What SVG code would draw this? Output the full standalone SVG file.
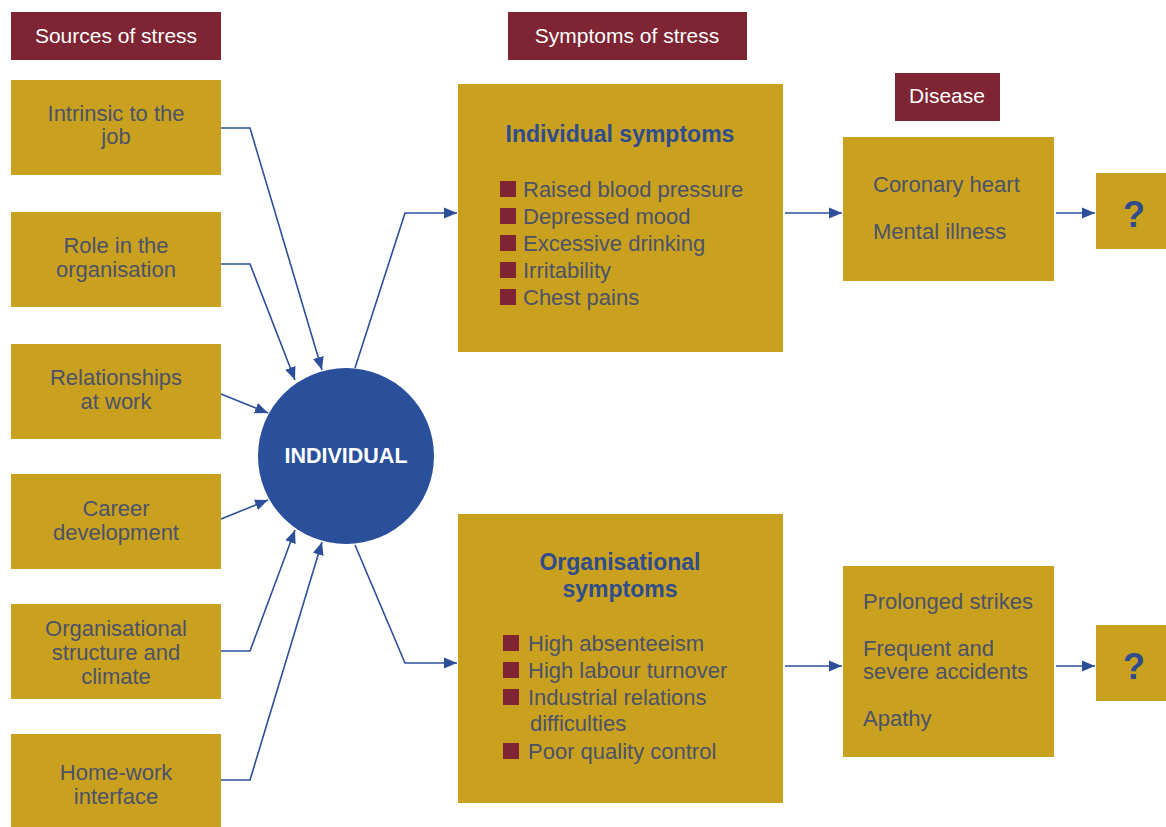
<svg xmlns="http://www.w3.org/2000/svg" width="1166" height="827" viewBox="0 0 1166 827">
<style>
.hdr{fill:#7e2433}
.hdrt{fill:#ffffff;font-family:"Liberation Sans",Arial,sans-serif;font-size:21px;text-anchor:middle}
.box{fill:#c9a11f}
.t{fill:#4c5268;font-family:"Liberation Sans",Arial,sans-serif;font-size:22px}
.c{text-anchor:middle}
.title{fill:#2f4c8c;font-family:"Liberation Sans",Arial,sans-serif;font-size:23px;font-weight:bold;text-anchor:middle}
.bul{fill:#7e2433}
.q{fill:#2f4c8c;font-family:"Liberation Sans",Arial,sans-serif;font-size:36px;font-weight:bold;text-anchor:middle}
.conn{fill:none;stroke:#2d4f9a;stroke-width:1.6;marker-end:url(#arr)}
</style>
<defs>
<marker id="arr" markerUnits="userSpaceOnUse" markerWidth="14" markerHeight="12" viewBox="0 0 14 12" refX="13" refY="6" orient="auto">
<path d="M0,0.5 L13,6 L0,11.5 Z" fill="#2d4f9a"/>
</marker>
</defs>
<rect width="1166" height="827" fill="#ffffff"/>

<g id="hdr-sources"><rect class="hdr" x="11" y="12" width="210" height="48"/><text class="hdrt" x="116" y="43">Sources of stress</text></g>
<g id="hdr-symptoms"><rect class="hdr" x="508" y="12" width="239" height="48"/><text class="hdrt" x="627" y="43">Symptoms of stress</text></g>
<g id="hdr-disease"><rect class="hdr" x="895" y="73" width="105" height="48"/><text class="hdrt" x="947" y="103">Disease</text></g>

<g id="src-intrinsic"><rect class="box" x="11" y="80" width="210" height="95"/><text class="t c" x="116" y="121">Intrinsic to the</text><text class="t c" x="116" y="144">job</text></g>
<g id="src-role"><rect class="box" x="11" y="212" width="210" height="95"/><text class="t c" x="116" y="253">Role in the</text><text class="t c" x="116" y="277">organisation</text></g>
<g id="src-relationships"><rect class="box" x="11" y="344" width="210" height="95"/><text class="t c" x="116" y="385">Relationships</text><text class="t c" x="116" y="409">at work</text></g>
<g id="src-career"><rect class="box" x="11" y="474" width="210" height="95"/><text class="t c" x="116" y="516">Career</text><text class="t c" x="116" y="540">development</text></g>
<g id="src-org"><rect class="box" x="11" y="604" width="210" height="95"/><text class="t c" x="116" y="636">Organisational</text><text class="t c" x="116" y="660">structure and</text><text class="t c" x="116" y="684">climate</text></g>
<g id="src-home"><rect class="box" x="11" y="734" width="210" height="100"/><text class="t c" x="116" y="780">Home-work</text><text class="t c" x="116" y="804">interface</text></g>

<g id="individual"><circle cx="346" cy="456" r="88" fill="#2a4f9b"/><text x="346" y="463" fill="#ffffff" font-family="Liberation Sans, Arial, sans-serif" font-size="21.5" font-weight="bold" text-anchor="middle">INDIVIDUAL</text></g>

<g id="individual-symptoms"><rect class="box" x="458" y="84" width="325" height="268"/>
<text class="title" x="620" y="142">Individual symptoms</text>
<rect class="bul" x="500" y="181" width="16" height="16"/><text class="t" x="523" y="197">Raised blood pressure</text>
<rect class="bul" x="500" y="208" width="16" height="16"/><text class="t" x="523" y="224">Depressed mood</text>
<rect class="bul" x="500" y="235" width="16" height="16"/><text class="t" x="523" y="251">Excessive drinking</text>
<rect class="bul" x="500" y="262" width="16" height="16"/><text class="t" x="523" y="278">Irritability</text>
<rect class="bul" x="500" y="289" width="16" height="16"/><text class="t" x="523" y="305">Chest pains</text>
</g>

<g id="organisational-symptoms"><rect class="box" x="458" y="514" width="325" height="289"/>
<text class="title" x="620" y="570">Organisational</text><text class="title" x="620" y="597">symptoms</text>
<rect class="bul" x="503" y="635" width="16" height="16"/><text class="t" x="528" y="651">High absenteeism</text>
<rect class="bul" x="503" y="662" width="16" height="16"/><text class="t" x="528" y="678">High labour turnover</text>
<rect class="bul" x="503" y="689" width="16" height="16"/><text class="t" x="528" y="705">Industrial relations</text>
<text class="t" x="530" y="731">difficulties</text>
<rect class="bul" x="503" y="743" width="16" height="16"/><text class="t" x="528" y="759">Poor quality control</text>
</g>

<g id="disease-top"><rect class="box" x="843" y="137" width="211" height="144"/><text class="t" x="873" y="192">Coronary heart</text><text class="t" x="873" y="239">Mental illness</text></g>
<g id="disease-bottom"><rect class="box" x="843" y="566" width="211" height="191"/><text class="t" x="863" y="609">Prolonged strikes</text><text class="t" x="863" y="656">Frequent and</text><text class="t" x="863" y="679">severe accidents</text><text class="t" x="863" y="726">Apathy</text></g>

<g id="q-top"><rect class="box" x="1096" y="173" width="80" height="76"/><text class="q" x="1134" y="227">?</text></g>
<g id="q-bottom"><rect class="box" x="1096" y="625" width="80" height="76"/><text class="q" x="1134" y="679">?</text></g>

<g id="connectors">
<polyline class="conn" points="221,128 250,128 322,370"/>
<polyline class="conn" points="221,264 250,264 295,380"/>
<polyline class="conn" points="221,394 268,413"/>
<polyline class="conn" points="221,519 268,500"/>
<polyline class="conn" points="221,651 250,651 295,530"/>
<polyline class="conn" points="221,780 250,780 322,542"/>
<polyline class="conn" points="355,368 405,213 457,213"/>
<polyline class="conn" points="355,545 405,663 457,663"/>
<polyline class="conn" points="785,213 842,213"/>
<polyline class="conn" points="1056,213 1095,213"/>
<polyline class="conn" points="785,666 842,666"/>
<polyline class="conn" points="1056,666 1095,666"/>
</g>
</svg>
